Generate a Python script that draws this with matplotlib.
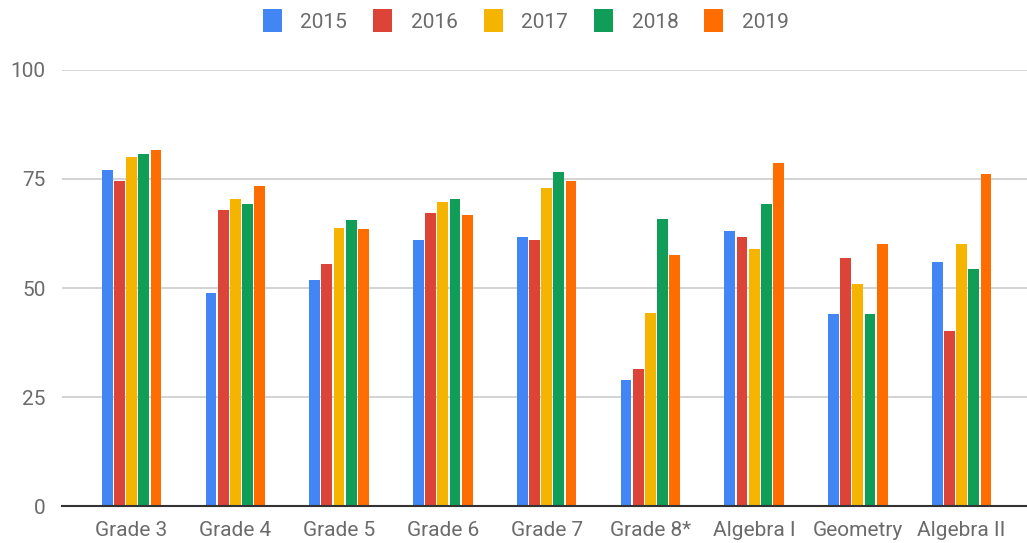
import numpy as np
import matplotlib.pyplot as plt

plt.rcParams['font.family'] = ['Roboto', 'DejaVu Sans']

categories = ["Grade 3", "Grade 4", "Grade 5", "Grade 6", "Grade 7",
              "Grade 8*", "Algebra I", "Geometry", "Algebra II"]
years = ["2015", "2016", "2017", "2018", "2019"]
v2015 = [77.1, 48.9, 51.8, 60.9, 61.8, 29.0, 63.0, 44.0, 55.9]
v2016 = [74.6, 68.0, 55.5, 67.1, 60.9, 31.5, 61.8, 56.8, 40.2]
v2017 = [80.0, 70.4, 63.8, 69.7, 72.9, 44.3, 58.9, 51.0, 60.0]
v2018 = [80.8, 69.2, 65.5, 70.5, 76.7, 65.8, 69.2, 44.0, 54.3]
v2019 = [81.6, 73.3, 63.5, 66.7, 74.5, 57.6, 78.7, 60.0, 76.2]
series = [v2015, v2016, v2017, v2018, v2019]
colors = ["#4285F4", "#DB4437", "#F4B400", "#0F9D58", "#FF6D01"]

fig = plt.figure(figsize=(10.27, 5.43), dpi=100)
ax = fig.add_axes([0.0604, 0.0681, 0.9396, 0.803])

x = np.arange(len(categories))
step = 0.1175
for i, (vals, col, yr) in enumerate(zip(series, colors, years)):
    ax.bar(x + (i - 2) * step, vals, width=0.104, color=col, label=yr, zorder=3)

ax.set_xlim(-0.67, 8.63)
ax.set_ylim(0, 100)
ax.set_yticks([0, 25, 50, 75, 100])
ax.set_xticks(x)
ax.set_xticklabels(categories)
ax.tick_params(axis='both', length=0, labelsize=15, labelcolor="#6b6b6b")
ax.tick_params(axis='y', pad=12)
ax.tick_params(axis='x', pad=11)
ax.grid(axis='y', color="#cccccc", linewidth=1.2, zorder=0)
for s in ["top", "right", "left"]:
    ax.spines[s].set_visible(False)
ax.spines["bottom"].set_color("#333333")
ax.spines["bottom"].set_linewidth(1.5)
ax.spines["bottom"].set_zorder(4)

fig.legend(loc="center", bbox_to_anchor=(0.512, 0.962), ncol=5, frameon=False,
           fontsize=15, labelcolor="#6b6b6b", handlelength=0.9, handleheight=1.3,
           handletextpad=0.9, columnspacing=1.25)

fig.savefig("out.png", dpi=100)
